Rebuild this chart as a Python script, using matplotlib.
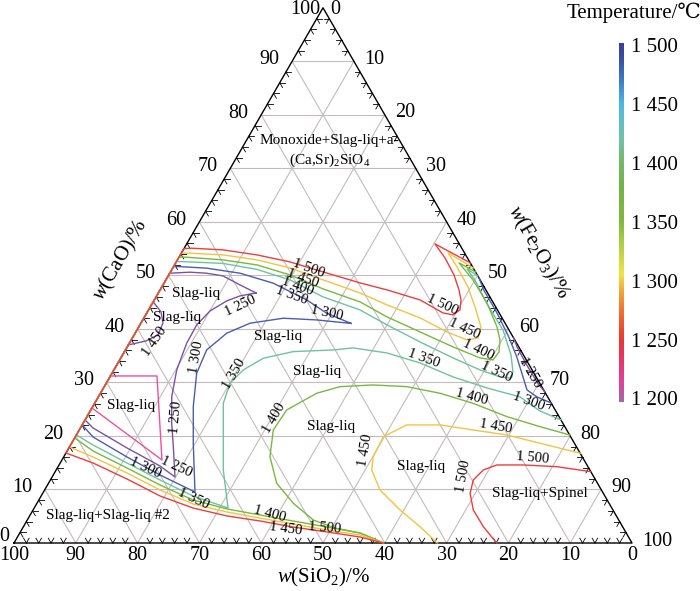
import numpy as np
import matplotlib
matplotlib.use("Agg")
import matplotlib.pyplot as plt
from matplotlib.colors import LinearSegmentedColormap, Normalize
import matplotlib.cm as cm

plt.rcParams['font.family'] = ['Liberation Serif', 'DejaVu Serif', 'DejaVu Sans']
plt.rcParams['mathtext.fontset'] = 'custom'
plt.rcParams['mathtext.rm'] = 'Liberation Serif'
plt.rcParams['mathtext.it'] = 'Liberation Serif:italic'

# isotherms, points given as (CaO, Fe2O3) in mass %, SiO2 is the rest
iso1500_main = [(0, 59.8), (1.12, 55.43), (2.06, 49.62), (2.99, 43.66), (4.11, 37.76), (5.05, 31.95),
                (6.54, 25.69), (8.79, 19.23), (11.96, 12.30), (14.95, 5.31), (16.82, 0),
                (55.0, 0), (55.08, 1.21), (54.77, 6.43), (53.83, 12.40), (52.52, 18.40), (50.65, 24.67),
                (48.60, 31.69), (47.29, 36.71), (45.42, 42.99), (42.99, 47.92), (42.62, 49.73),
                (43.55, 50.39), (45.42, 49.62), (47.29, 48.36), (50.09, 46.15), (53.27, 43.10),
                (55.89, 40.17), (52.34, 47.66)]
iso1500_right = [(13.33, 86.67), (14.26, 80.69), (14.58, 75.12), (14.58, 70.82), (13.64, 69.12),
                 (11.78, 68.43), (9.29, 69.15), (6.17, 71.24), (3.05, 74.42), (0, 78.1)]

iso1450_main = [(0, 59.8), (1.50, 55.24), (2.43, 49.44), (3.55, 43.38), (4.67, 37.48), (5.79, 31.58),
                (7.29, 25.32), (9.91, 18.67), (13.08, 11.74), (16.07, 4.75), (17.94, 0),
                (54.15, 0), (54.15, 1.40), (53.83, 6.90), (52.90, 12.87), (51.40, 18.96), (49.16, 25.42),
                (46.73, 32.62), (44.49, 38.12), (42.06, 44.67), (39.44, 50.34), (37.94, 54.33),
                (38.32, 55.92), (40.37, 55.38), (44.11, 52.54), (47.85, 49.53), (51.59, 45.89),
                (54.21, 43.13), (51.40, 48.60)]
iso1450_right = [(16.77, 83.23), (18.64, 75.79), (20.19, 69.63), (21.12, 63.76), (22.06, 57.90),
                 (22.06, 52.51), (19.87, 49.83), (16.13, 50.07), (13.64, 51.06), (9.91, 54.27),
                 (6.17, 59.38), (3.05, 64.18), (0, 68.5)]

iso1400_main = [(0, 59.8), (1.87, 55.06), (2.99, 49.16), (4.11, 43.10), (5.23, 37.20), (6.36, 31.29),
                (8.04, 24.94), (10.84, 18.20), (14.02, 11.27), (17.20, 4.18), (19.63, 0),
                (53.40, 0), (53.40, 1.24), (52.90, 7.37), (51.96, 13.34), (50.09, 19.61), (47.48, 26.26),
                (45.05, 33.47), (42.24, 39.24), (39.44, 45.98), (36.64, 52.72), (34.58, 58.11),
                (34.21, 60.41), (35.70, 60.63), (37.94, 59.67), (40.37, 57.97), (44.86, 54.11),
                (49.16, 49.69), (52.34, 45.84), (50.65, 49.35)]
iso1400_arc = [(20.19, 79.81), (21.74, 74.24), (23.61, 67.96), (26.11, 61.21), (27.98, 54.94),
               (29.21, 48.98), (29.53, 43.32), (29.21, 38.14), (27.98, 34.99), (24.86, 31.70),
               (21.12, 31.40), (16.13, 33.35), (11.16, 36.93), (7.42, 41.48), (4.30, 46.28),
               (2.80, 50.54), (1.87, 55.06), (0, 59.8)]

iso1350_main = [(49.91, 50.09), (51.21, 47.69), (48.97, 50.20), (44.86, 54.0), (39.81, 59.22),
                (35.14, 62.85), (31.96, 64.76), (30.84, 64.84), (31.03, 63.13), (32.34, 59.23),
                (34.58, 53.75), (37.57, 46.91), (40.75, 39.99), (43.55, 34.22), (45.98, 27.01),
                (49.16, 20.08), (51.12, 13.76), (52.24, 7.70), (52.58, 1.10), (52.58, 0),
                (20.19, 0), (18.32, 3.62), (14.95, 10.81), (11.78, 17.73), (8.79, 24.57), (6.54, 31.36),
                (13.64, 27.05), (19.87, 23.94), (26.11, 20.81), (29.85, 20.02), (32.34, 20.93),
                (34.52, 23.08), (35.76, 27.31), (36.07, 33.63), (36.45, 36.63), (35.51, 42.60),
                (33.64, 48.88), (31.03, 55.53), (28.97, 62.05), (27.29, 68.24), (24.67, 72.77),
                (22.99, 77.01)]

iso1300_main = [(41.03, 34.02), (42.93, 29.13), (45.42, 24.65), (48.54, 17.69), (50.41, 11.36),
                (51.35, 5.51), (51.64, 1.04), (51.64, 0),
                (22.06, 0), (19.81, 2.88), (16.07, 10.25), (12.71, 17.27), (9.53, 24.52),
                (18.64, 19.69), (25.48, 16.27), (31.72, 13.70), (36.07, 13.14), (39.20, 14.82),
                (41.07, 17.66), (42.0, 22.58), (41.68, 28.14), (41.03, 34.02)]
iso1300_edge = [(49.5, 50.5), (47.29, 52.36), (42.99, 56.66), (38.50, 60.81), (34.77, 63.97),
                (31.03, 66.85), (28.60, 68.71), (27.29, 70.99), (26.17, 73.83)]

iso1250_main = [(46.73, 15.80), (48.22, 12.46), (49.91, 8.86), (50.41, 5.97), (50.60, 3.18), (50.41, 0),
                (22.99, 0), (21.50, 2.03), (17.76, 9.40), (14.39, 16.43), (12.34, 19.88),
                (18.0, 16.78), (22.37, 14.33), (27.35, 11.85), (32.34, 10.16), (37.33, 9.28),
                (40.75, 9.19), (43.36, 10.04), (45.23, 11.80), (46.17, 13.49), (46.73, 15.80)]
iso1250_edge = [(38.32, 61.68), (36.5, 63.2), (33.08, 66.52), (29.72, 69.98), (28.22, 71.78)]
iso1250_small = [(45.05, 0), (43.18, 2.20), (41.12, 3.55), (38.88, 3.86), (37.76, 2.48), (37.01, 0)]

iso1200_loop = [(31.21, 0), (31.21, 7.53), (15.51, 16.19), (25.23, 0)]

line_colors = {1500: '#ef3c3c', 1450: '#f3c43f', 1400: '#79b83f', 1350: '#6dc3a0',
               1300: '#4b5db0', 1250: '#7b52a8', 1200: '#ef4f9b'}

# drawn low to high so the 1500 line lies on top along the CaO-SiO2 side
isotherms = [(1200, iso1200_loop), (1250, iso1250_main), (1250, iso1250_edge), (1250, iso1250_small),
             (1300, iso1300_main), (1300, iso1300_edge), (1350, iso1350_main),
             (1400, iso1400_main), (1400, iso1400_arc), (1450, iso1450_main), (1450, iso1450_right),
             (1500, iso1500_main), (1500, iso1500_right)]

# colour bar
cbar_temps = [1200, 1215, 1235, 1250, 1270, 1290, 1305, 1330, 1350, 1380, 1400, 1420, 1450, 1470, 1490, 1500]
cbar_colors = ['#a862a8', '#e23f9e', '#e8345e', '#e83a30', '#ef6630', '#f1a238', '#f0e244', '#b2d043',
               '#82b842', '#72b247', '#73b866', '#72c1a4', '#4fb9e0', '#3b7fc6', '#3a4ca0', '#38418f']
cbar_ticks = [1200, 1250, 1300, 1350, 1400, 1450, 1500]

contour_labels = [
    ('1 500', 47.73, 44.50, -20), ('1 450', 46.76, 42.88, -20), ('1 400', 45.95, 41.59, -20),
    ('1 350', 44.98, 40.13, -20), ('1 300', 50.65, 37.22, -12), ('1 250', 36.57, 38.35, 25),
    ('1 450', 22.82, 32.52, 55), ('1 300', 29.45, 30.10, 80), ('1 350', 35.60, 27.35, 60),
    ('1 250', 26.21, 20.39, 85), ('1 400', 42.07, 20.23, 60),
    ('1 300', 21.20, 12.14, -25), ('1 250', 26.21, 12.30, -25), ('1 350', 28.96, 7.12, -25),
    ('1 400', 41.42, 4.69, -15), ('1 450', 44.01, 2.27, -8), ('1 500', 50.32, 2.43, -5),
    ('1 500', 69.26, 38.51, -25), ('1 450', 72.82, 34.63, -25), ('1 400', 75.08, 31.23, -25),
    ('1 350', 77.99, 27.67, -25), ('1 350', 66.34, 29.94, -20), ('1 400', 74.11, 23.62, -15),
    ('1 300', 83.33, 22.98, -20), ('1 250', 83.50, 27.67, -60),
    ('1 450', 56.80, 15.05, 80), ('1 450', 77.99, 18.93, -10), ('1 500', 83.98, 13.75, -5),
    ('1 500', 72.65, 10.84, 80),
]
region_labels = [
    ('Monoxide+Slag-liq+a-', 50.97, 65.05), ('(Ca,Sr)$_2$SiO$_4$', 51.13, 61.97),
    ('Slag-liq', 29.45, 40.37), ('Slag-liq', 26.46, 36.49), ('Slag-liq', 42.80, 33.41),
    ('Slag-liq', 49.11, 27.75), ('Slag-liq', 18.93, 22.25), ('Slag-liq', 51.29, 18.85),
    ('Slag-liq+Slag-liq #2', 15.21, 4.53), ('Slag-liq', 65.86, 12.30), ('Slag-liq+Spinel', 85.11, 8.09),
]

h = np.sqrt(3) / 2


def tern(cao, fe):
    cao = np.asarray(cao, float)
    fe = np.asarray(fe, float)
    return fe + cao / 2, cao * h


fig = plt.figure(figsize=(7, 5.91), dpi=100)
ax = fig.add_axes([0, 0, 1, 1])
ax.set_xlim(-14 / 6.18, 686 / 6.18)
ax.set_ylim(-48 / 6.18, 543 / 6.18)
ax.axis('off')

# grid
grid_kw = dict(color='#c4bcbc', lw=0.8, zorder=1)
for k in range(10, 100, 10):
    ax.plot(*tern([k, k], [0, 100 - k]), **grid_kw)
    ax.plot(*tern([0, 100 - k], [k, k]), **grid_kw)
    ax.plot(*tern([0, 100 - k], [100 - k, 0]), **grid_kw)

# frame
ax.plot(*tern([0, 0, 100, 0], [0, 100, 0, 0]), color='k', lw=1.0, zorder=2)

# small chevron ticks every 2 %
L = 0.9
def chevron(x0, y0, angles):
    for a in angles:
        r = np.deg2rad(a)
        ax.plot([x0, x0 + L * np.cos(r)], [y0, y0 + L * np.sin(r)], color='k', lw=0.6, zorder=2)

for v in range(2, 100, 2):
    if v % 10 == 0:
        continue
    chevron(*tern(0, v), (60, 120))
    chevron(*tern(v, 0), (0, -60))
    chevron(*tern(100 - v, v), (180, 240))

# tick labels
tk = dict(fontsize=14.5)
for v in range(0, 101, 10):
    x, y = tern(0, 100 - v)
    ax.text(x, y - 0.5, str(v), ha='center', va='top', **tk)
    x, y = tern(v, 0)
    if v == 0:
        ax.text(-1.5, y + 1.1, '0', ha='center', va='center', **tk)
    elif v == 100:
        ax.text(x - 0.5, y - 0.2, '100', ha='right', va='center', **tk)
    else:
        ax.text(x - 2.1, y + 0.25, str(v), ha='right', va='center', **tk)
    x, y = tern(100 - v, v)
    if v == 0:
        ax.text(x + 1.1, y - 0.2, '0', ha='left', va='center', **tk)
    else:
        ax.text(x + 1.7, y + 0.3, str(v), ha='left', va='center', **tk)

ax.text(50.0, -5.66, r'$w$(SiO$_2$)/%', ha='center', va='center', fontsize=15)
ax.text(17.3, 45.8, r'$w$(CaO)/%', ha='center', va='center', fontsize=15, rotation=60)
ax.text(84.8, 47.1, r'$w$(Fe$_2$O$_3$)/%', ha='center', va='center', fontsize=15, rotation=-60)

# isotherms
for t, pts in isotherms:
    c, f = zip(*pts)
    ax.plot(*tern(c, f), color=line_colors[t], lw=1.0, zorder=3, solid_joinstyle='round')

for s, x, y, rot in contour_labels:
    ax.text(x, y, s, ha='center', va='center', rotation=rot, rotation_mode='anchor',
            fontsize=10.5, zorder=4)
for s, x, y in region_labels:
    ax.text(x, y, s, ha='center', va='center', fontsize=11, zorder=4)

# colour bar
lo, hi = 1197, 1502
pos = [(t - lo) / (hi - lo) for t in cbar_temps]
pos[0], pos[-1] = 0.0, 1.0
cmap = LinearSegmentedColormap.from_list('temp', list(zip(pos, cbar_colors)))
cax = fig.add_axes([619 / 700, (591 - 402) / 591, 5 / 700, 359 / 591])
cb = fig.colorbar(cm.ScalarMappable(norm=Normalize(lo, hi), cmap=cmap), cax=cax)
cb.set_ticks(cbar_ticks)
cb.set_ticklabels([f'{t // 1000} {t % 1000:03d}' for t in cbar_ticks])
cb.ax.tick_params(length=0, labelsize=15, pad=5)
cb.outline.set_visible(False)
fig.text(634 / 700, 1 - 13 / 591, 'Temperature/℃', ha='center', va='center', fontsize=15)

fig.savefig('out.png', dpi=100)
